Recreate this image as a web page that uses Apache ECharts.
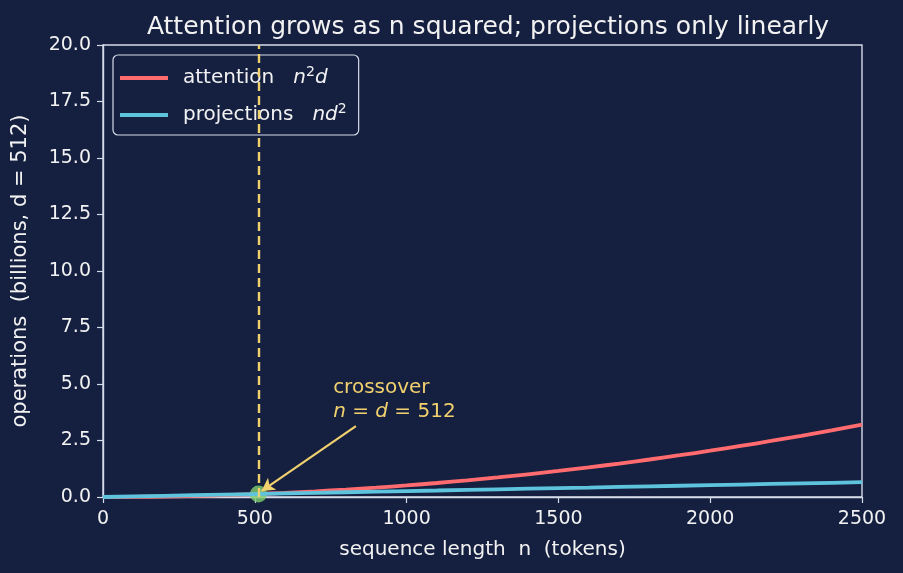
<!DOCTYPE html>
<html>
<head>
<meta charset="utf-8">
<script src="https://cdn.jsdelivr.net/npm/echarts@6/dist/echarts.min.js"></script>
<style>
html,body{margin:0;padding:0;background:#152040;}
#chart{width:903px;height:573px;}
</style>
</head>
<body>
<div id="chart"></div>
<script>
// sequence length n (tokens)
var seqLen = [0,100,200,300,400,500,600,700,800,900,1000,1100,1200,1300,1400,1500,1600,1700,1800,1900,2000,2100,2200,2300,2400,2500];
// operations in billions
var attentionOps = [0,0.005,0.020,0.046,0.082,0.128,0.184,0.251,0.328,0.415,0.512,0.620,0.737,0.865,1.004,1.152,1.311,1.480,1.659,1.848,2.048,2.258,2.478,2.708,2.949,3.200];
var projectionOps = [0,0.026,0.052,0.079,0.105,0.131,0.157,0.184,0.210,0.236,0.262,0.288,0.315,0.341,0.367,0.393,0.419,0.446,0.472,0.498,0.524,0.551,0.577,0.603,0.629,0.655];
var crossover = [512, 0.134];

var txt = '#f2f2f2';
var axisCol = '#d5dbe8';
var yellow = '#f1d06e';

var dom = document.getElementById("chart");
var myChart = echarts.init(dom);

function pairs(xs, ys){
	var out = [];
	for (var i = 0; i < xs.length; i++) { out.push([xs[i], ys[i]]); }
	return out;
}

var option = {
	backgroundColor: '#152040',
	textStyle: { fontFamily: 'DejaVu Sans' },
	title: {
		text: 'Attention grows as n squared; projections only linearly',
		left: 483, top: 10, textAlign: 'center',
		textStyle: { color: txt, fontSize: 25, fontWeight: 'normal', fontFamily: 'DejaVu Sans' }
	},
	legend: {
		orient: 'vertical',
		left: 113, top: 55,
		padding: [10, 12, 10, 7],
		itemGap: 14,
		itemWidth: 48, itemHeight: 4,
		icon: 'rect',
		backgroundColor: 'rgba(21,32,64,0.8)',
		borderColor: axisCol, borderWidth: 1.2, borderRadius: 5,
		data: ['attention', 'projections'],
		formatter: function(name){
			if (name === 'attention') return '{a|attention   }{i|n}{s|2}{i|d}';
			return '{a|projections   }{i|nd}{s|2}';
		},
		textStyle: {
			color: txt, fontSize: 20, padding: [0, 0, 0, 10],
			rich: {
				a: { color: txt, fontSize: 20, fontFamily: 'DejaVu Sans' },
				i: { color: txt, fontSize: 20, fontStyle: 'italic', fontFamily: 'DejaVu Sans' },
				s: { color: txt, fontSize: 14, fontFamily: 'DejaVu Sans', padding: [0, 0, 12, 0] }
			}
		}
	},
	grid: { left: 103, right: 41, top: 45, bottom: 76, show: true, borderColor: axisCol, borderWidth: 1.4 },
	xAxis: {
		type: 'value', min: 0, max: 2500, interval: 500,
		name: 'sequence length  n  (tokens)',
		nameLocation: 'middle', nameGap: 43,
		nameTextStyle: { color: txt, fontSize: 20 },
		axisLine: { show: true, lineStyle: { color: axisCol, width: 1.4 } },
		axisTick: { show: true, length: 6, lineStyle: { color: axisCol, width: 1.2 } },
		axisLabel: { color: txt, fontSize: 19, margin: 13, formatter: function(v){ return String(v); } },
		splitLine: { show: false }
	},
	yAxis: {
		type: 'value', min: 0, max: 20, interval: 2.5,
		name: 'operations  (billions, d = 512)',
		nameLocation: 'middle', nameGap: 72,
		nameTextStyle: { color: txt, fontSize: 21 },
		axisLine: { show: true, lineStyle: { color: axisCol, width: 1.4 } },
		axisTick: { show: true, length: 6, lineStyle: { color: axisCol, width: 1.2 } },
		axisLabel: { color: txt, fontSize: 19, margin: 12, formatter: function(v){ return v.toFixed(1); } },
		splitLine: { show: false }
	},
	series: [
		{
			name: 'attention', type: 'line', showSymbol: false, smooth: true,
			color: '#ff6b6e',
			lineStyle: { width: 3.8, color: '#ff6b6e' },
			data: pairs(seqLen, attentionOps),
			z: 2,
			markLine: {
				silent: true, symbol: ['none', 'none'],
				label: { show: false },
				lineStyle: { color: yellow, type: [9, 5], width: 2.4 },
				data: [ { xAxis: crossover[0] } ]
			}
		},
		{
			name: 'crossover', type: 'scatter',
			symbolSize: 17,
			itemStyle: { color: '#7fd06f' },
			data: [crossover],
			z: 3,
			markLine: {
				silent: true,
				symbol: ['none', 'arrow'], symbolSize: [11, 13],
				label: { show: false },
				lineStyle: { color: yellow, type: 'solid', width: 2.2 },
				data: [[ { coord: [833, 3.14] }, { coord: [522, 0.26] } ]]
			},
			markPoint: {
				silent: true, symbol: 'circle', symbolSize: 0,
				data: [ { coord: [758, 4.3] } ],
				label: {
					show: true, position: 'right', distance: 0,
					align: 'left',
					formatter: '{a|crossover}\n{i|n}{a| = }{i|d}{a| = 512}',
					rich: {
						a: { color: yellow, fontSize: 20, fontFamily: 'DejaVu Sans', lineHeight: 24 },
						i: { color: yellow, fontSize: 20, fontStyle: 'italic', fontFamily: 'DejaVu Sans', lineHeight: 24 }
					}
				}
			}
		},
		{
			name: 'projections', type: 'line', showSymbol: false,
			color: '#5ec3dc',
			lineStyle: { width: 3.8, color: '#5ec3dc' },
			data: pairs(seqLen, projectionOps),
			z: 4
		}
	]
};

if (option && typeof option === "object") {
	myChart.setOption(option, true);
}
</script>
</body>
</html>
